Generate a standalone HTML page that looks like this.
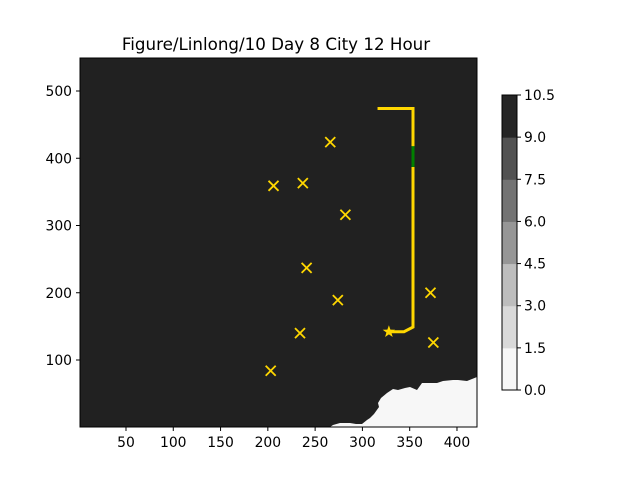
<!DOCTYPE html>
<html><head><meta charset="utf-8"><style>body{margin:0;background:#fff}svg{display:block;font-family:"DejaVu Sans","Liberation Sans",sans-serif}</style></head>
<body>
<svg id="c" width="640" height="480">
<text x="276" y="50" font-size="16.7" text-anchor="middle">Figure/Linlong/10 Day 8 City 12 Hour</text>
<g id="plot"></g>
</svg>
<script>
const xTicks=[50,100,150,200,250,300,350,400];
const yTicks=[100,200,300,400,500];
const cityX=[206,237,266,282,241,274,234,203,372,375];
const cityY=[359,363,424,316,237,189,140,84,200,126];
const startX=[328];const startY=[142];
const routeX=[316,353.5,353.5,344,328];
const routeY=[474,474,149,142,142];
const greenX=[353.5,353.5];const greenY=[418,387];
const cbLevels=[0,1.5,3,4.5,6,7.5,9,10.5];
const cbColors=['#f7f7f7','#d9d9d9','#bdbdbd','#969696','#737373','#525252','#252525'];
const X=v=>78.7+v*0.9457, Y=v=>427.25-v*0.6725;
const ns='http://www.w3.org/2000/svg',g=document.getElementById('plot');
function el(t,a,p){const e=document.createElementNS(ns,t);for(const k in a)e.setAttribute(k,a[k]);(p||g).appendChild(e);return e;}
let e=el('rect',{x:80,y:58,width:397,height:369,fill:'#212121'});


e=el('polygon',{fill:'#f7f7f7',points:'330,427 333,425 340,423 350,423 356,424 362,424 367,420 370,418 374,414 379,407 378,403 381,398 387,393 393,389 398,390 405,388 410,387 417,390 422,383 437,383 443,381 453,380 458,380 467,381 477,377 477,427'});


e=el('rect',{x:80,y:58,width:397,height:369,fill:'none',stroke:'#000','stroke-width':1});


xTicks.forEach(v=>{const x=X(v);el('line',{x1:x,x2:x,y1:427,y2:431,stroke:'#000'});
 const t=el('text',{x:x,y:447,'font-size':13.9,'text-anchor':'middle'});t.textContent=v;
 
 });
yTicks.forEach(v=>{const y=Y(v);el('line',{x1:76,x2:80,y1:y,y2:y,stroke:'#000'});
 const t=el('text',{x:72,y:y+5,'font-size':13.9,'text-anchor':'end'});t.textContent=v;
 
 });
e=el('polyline',{points:routeX.map((v,i)=>X(v)+','+Y(routeY[i])).join(' '),fill:'none',stroke:'#ffd700','stroke-width':3});


e=el('polyline',{points:greenX.map((v,i)=>X(v)+','+Y(greenY[i])).join(' '),fill:'none',stroke:'#008000','stroke-width':3});


cityX.forEach((v,i)=>{const x=X(v),y=Y(cityY[i]);
 const m=el('path',{d:`M${x-5},${y-5}L${x+5},${y+5}M${x-5},${y+5}L${x+5},${y-5}`,stroke:'#ffd700','stroke-width':1.8});
 
 });
startX.forEach((v,i)=>{const x=X(v),y=Y(startY[i]);let p=[];
 for(let k=0;k<10;k++){const r=k%2?2.6:6.5,a=-Math.PI/2+k*Math.PI/5;p.push((x+r*Math.cos(a))+','+(y+r*Math.sin(a)));}
 const s=el('polygon',{points:p.join(' '),fill:'#ffd700'});
 
 });
const cbT=95,cbB=390,cbS=(cbB-cbT)/10.5,CY=v=>cbB-v*cbS;
cbColors.forEach((c,i)=>{const r=el('rect',{x:502,y:CY(cbLevels[i+1]),width:15,height:CY(cbLevels[i])-CY(cbLevels[i+1])+0.5,fill:c});
 
 });
e=el('rect',{x:502,y:cbT,width:15,height:cbB-cbT,fill:'none',stroke:'#000'});


cbLevels.forEach(v=>{const y=CY(v);el('line',{x1:517,x2:521,y1:y,y2:y,stroke:'#000'});
 const t=el('text',{x:524,y:y+5,'font-size':13.9});t.textContent=v.toFixed(1);
 
 });
</script>
</body></html>
